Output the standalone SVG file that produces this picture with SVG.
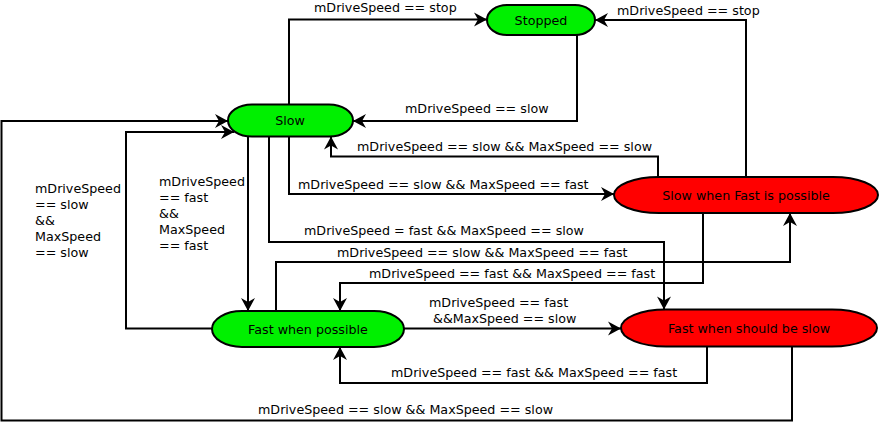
<svg xmlns="http://www.w3.org/2000/svg" width="881" height="422" viewBox="0 0 881 422">
<style>
text{font-family:"DejaVu Sans",Verdana,sans-serif;font-size:12.7px;fill:#000}
.g{fill:#00f000;stroke:#000;stroke-width:2}
.r{fill:#ff0000;stroke:#000;stroke-width:2}
.c{fill:none;stroke:#000;stroke-width:2;marker-end:url(#a)}
.m{text-anchor:middle}
</style>
<defs>
<marker id="a" markerUnits="userSpaceOnUse" markerWidth="16" markerHeight="16" viewBox="-14 -8 16 16" refX="0" refY="0" orient="auto">
<path d="M0,0 L-13,-7 L-9,0 L-13,7 Z" fill="#000"/>
</marker>
</defs>
<rect width="881" height="422" fill="#fff"/>
<g id="connectors">
<path class="c" d="M289,104 V19.5 H487"/>
<path class="c" d="M577,35 V121 H353"/>
<path class="c" d="M746,177 V20 H595"/>
<path class="c" d="M658,177 V156.5 H331 V136.5"/>
<path class="c" d="M289,136.5 V194 H614"/>
<path class="c" d="M248,136.5 V311"/>
<path class="c" d="M212,328.5 H126 V132 H234"/>
<path class="c" d="M792,346.5 V420.5 H1.5 V121 H228"/>
<path class="c" d="M269,136.5 V242 H664 V309.5"/>
<path class="c" d="M276,311 V262 H790 V213"/>
<path class="c" d="M703,213 V283 H340 V311"/>
<path class="c" d="M404,328.5 H621"/>
<path class="c" d="M707,346.5 V383 H340 V347"/>
<text x="314" y="12">mDriveSpeed == stop</text>
<text x="617" y="15">mDriveSpeed == stop</text>
<text x="405" y="112.5">mDriveSpeed == slow</text>
<text x="357" y="150.5">mDriveSpeed == slow &amp;&amp; MaxSpeed == slow</text>
<text x="298" y="189">mDriveSpeed == slow &amp;&amp; MaxSpeed == fast</text>
<text x="159" y="186">mDriveSpeed</text>
<text x="159" y="202">== fast</text>
<text x="159" y="218">&amp;&amp;</text>
<text x="159" y="234">MaxSpeed</text>
<text x="159" y="250">== fast</text>
<text x="35" y="192.5">mDriveSpeed</text>
<text x="35" y="208.5">== slow</text>
<text x="35" y="224.5">&amp;&amp;</text>
<text x="35" y="240.5">MaxSpeed</text>
<text x="35" y="256.5">== slow</text>
<text x="304" y="235">mDriveSpeed = fast &amp;&amp; MaxSpeed == slow</text>
<text x="337" y="257">mDriveSpeed == slow &amp;&amp; MaxSpeed == fast</text>
<text x="369" y="278">mDriveSpeed == fast &amp;&amp; MaxSpeed == fast</text>
<text x="429" y="307">mDriveSpeed == fast</text>
<text x="433" y="323">&amp;&amp;MaxSpeed == slow</text>
<text x="391" y="377">mDriveSpeed == fast &amp;&amp; MaxSpeed == fast</text>
<text x="258" y="414">mDriveSpeed == slow &amp;&amp; MaxSpeed == slow</text>
</g>
<g id="stopped">
<rect class="g" x="487" y="5" width="108" height="30" rx="20" ry="15"/>
<text class="m" x="541" y="24.5">Stopped</text>
</g>
<g id="slow">
<rect class="g" x="228" y="104.5" width="125" height="32" rx="24" ry="16"/>
<text class="m" x="290" y="125">Slow</text>
</g>
<g id="slow-when-fast-is-possible">
<rect class="r" x="614" y="177" width="264" height="36" rx="45" ry="18"/>
<text class="m" x="746" y="199.5">Slow when Fast is possible</text>
</g>
<g id="fast-when-possible">
<rect class="g" x="212" y="311" width="192" height="36" rx="30" ry="18"/>
<text class="m" x="308" y="333.5">Fast when possible</text>
</g>
<g id="fast-when-should-be-slow">
<rect class="r" x="621" y="309.5" width="256" height="37" rx="45" ry="18.5"/>
<text class="m" x="749" y="332.5">Fast when should be slow</text>
</g>
</svg>
